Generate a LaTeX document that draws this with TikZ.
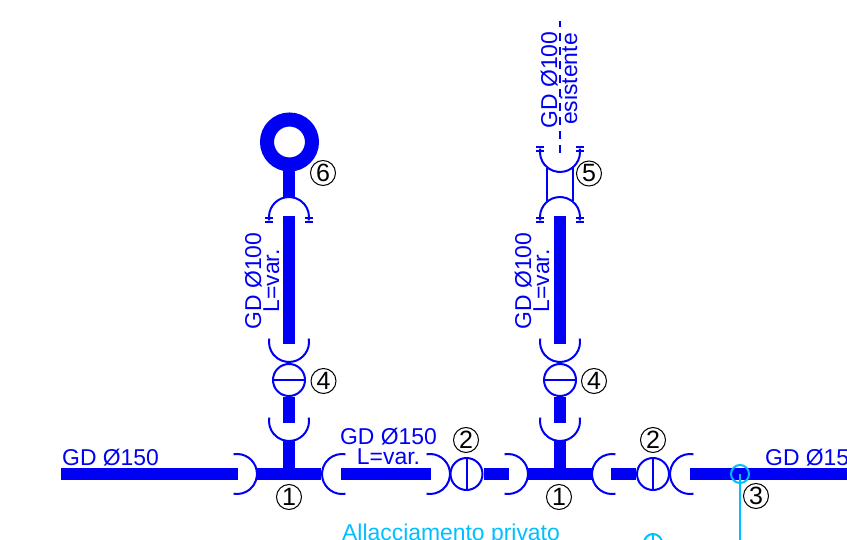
\documentclass[tikz,border=0pt]{standalone}
\usepackage{fontspec}
\setmainfont{Liberation Sans}
\definecolor{rete}{RGB}{0,0,245}
\definecolor{allacc}{RGB}{0,190,255}
\tikzset{
  pipe/.style={draw=rete, line width=11.5pt},
  wall/.style={draw=rete, line width=2pt},
  valve/.style={draw=rete, line width=2pt, circle, inner sep=0pt, minimum size=32pt},
  lbl/.style={text=rete, inner sep=0pt, font=\fontsize{22.9}{24}\selectfont},
  num/.style={draw=black, line width=1pt, circle, inner sep=0pt, minimum size=25pt, font=\fontsize{25}{26}\selectfont},
  socket/.pic={\draw[wall] (100:20pt) arc (100:-100:20pt);},
  capsocket/.pic={
    \draw[wall] (100:20pt) arc (100:-100:20pt);
    \foreach \t/\w in {-1/4, -5/4}{
      \draw[wall] (\t pt,20pt-\w pt) -- (\t pt,20pt+\w pt) (\t pt,-20pt+\w pt) -- (\t pt,-20pt-\w pt);
    }
  }
}
\begin{document}
\begin{tikzpicture}[x=1pt, y=-1pt]
\clip (0,0) rectangle (847,540);

% horizontal line
\coordinate (h0) at (61,474);
\coordinate (h1) at (238,474);
\coordinate (h2) at (257,474);
\coordinate (h3) at (321,474);
\coordinate (h4) at (341,474);
\coordinate (h5) at (431,474);
\coordinate (h6) at (509,474);
\coordinate (h7) at (528,474);
\coordinate (h8) at (592,474);
\coordinate (h9) at (611,474);
\coordinate (h10) at (690,474);
\coordinate (h11) at (847,474);
\node[valve] (vh1) at (466.5,474) {};
\node[valve] (vh2) at (653,474) {};
\draw[wall] (vh1.north) -- (vh1.south) (vh2.north) -- (vh2.south);
\path[pipe] (h0) -- (h1) (h2) -- (h3) (h4) -- (h5) (vh1.east) -- (h6)
  (h7) -- (h8) (h9) -- (vh2.west) (h10) -- (h11);
\foreach \x/\r in {237/0, 342/180, 430/0, 508/0, 612/180, 690/180}{
  \pic[rotate=\r] at (\x,474) {socket};
}

% vertical branches
\foreach \x/\n in {289/a, 560/b}{
  \coordinate (t\n) at (\x,474);
  \coordinate (s\n) at (\x,441);
  \coordinate (r\n) at (\x,423);
  \coordinate (q\n) at (\x,344);
  \coordinate (p\n) at (\x,216);
  \node[valve] (v\n) at (\x,380) {};
  \draw[wall] (v\n.west) -- (v\n.east);
  \path[pipe] (t\n) -- (s\n) (r\n) -- (v\n.south) (q\n) -- (p\n);
  \pic[rotate=-90] at (\x,421) {socket};
  \pic[rotate=-90] at (\x,342) {socket};
  \pic[rotate=90] at (\x,217) {capsocket};
}

% end of left branch
\node[draw=rete, line width=14pt, circle, inner sep=0pt, minimum size=45pt] (fine) at (289.5,142) {};
\coordinate (fa) at (289,197);
\path[pipe] (fine.south -| fa) -- (fa);

% existing pipe
\pic[rotate=-90] at (560,152) {capsocket};
\coordinate (la1) at (547,168);
\coordinate (la2) at (547,201);
\coordinate (lb1) at (573,168);
\coordinate (lb2) at (573,201);
\coordinate (e1) at (560,153);
\coordinate (e2) at (560,21);
\draw[wall] (la1) -- (la2) (lb1) -- (lb2);
\draw[wall, dash pattern=on 8pt off 6pt] (e1) -- (e2);

% private connection
\node[draw=allacc, line width=2pt, circle, inner sep=0pt, minimum size=18pt] (a1) at (740,474) {};
\node[draw=allacc, line width=2pt, circle, inner sep=0pt, minimum size=18pt] (a2) at (653,543) {};
\coordinate (a1e) at (740,540);
\draw[draw=allacc, line width=2pt] (a1.center) -- (a1e) (a2.north) -- (a2.center);

% texts
\node[lbl, anchor=base west] (t1) at (62,465) {GD Ø150};
\node[lbl, anchor=base] (t2) at (388.5,444) {GD Ø150};
\node[lbl, anchor=base] (t3) at (388.5,464) {L=var.};
\node[lbl, anchor=base west] (t4) at (765,465) {GD Ø15};
\node[lbl, text=allacc, anchor=base west] (t5) at (342,540) {Allacciamento privato};
\node[lbl, rotate=90, anchor=base] (t6) at (261,281) {GD Ø100};
\node[lbl, rotate=90, anchor=base] (t7) at (279,281) {L=var.};
\node[lbl, rotate=90, anchor=base] (t8) at (531,281) {GD Ø100};
\node[lbl, rotate=90, anchor=base] (t9) at (549,281) {L=var.};
\node[lbl, rotate=90, anchor=base] (t10) at (557,80) {GD Ø100};
\node[lbl, rotate=90, anchor=base] (t11) at (577,79) {esistente};

% item numbers
\foreach \x/\y/\d/\m in {289/497/1/n1, 559/497/1/n2, 466/440/2/n3, 653/440/2/n4, 756/496/3/n5,
  323.5/381/4/n6, 594/381/4/n7, 589/173.5/5/n8, 323/173/6/n9}{
  \node[num] (\m) at (\x,\y) {\d};
}
\end{tikzpicture}
\end{document}
